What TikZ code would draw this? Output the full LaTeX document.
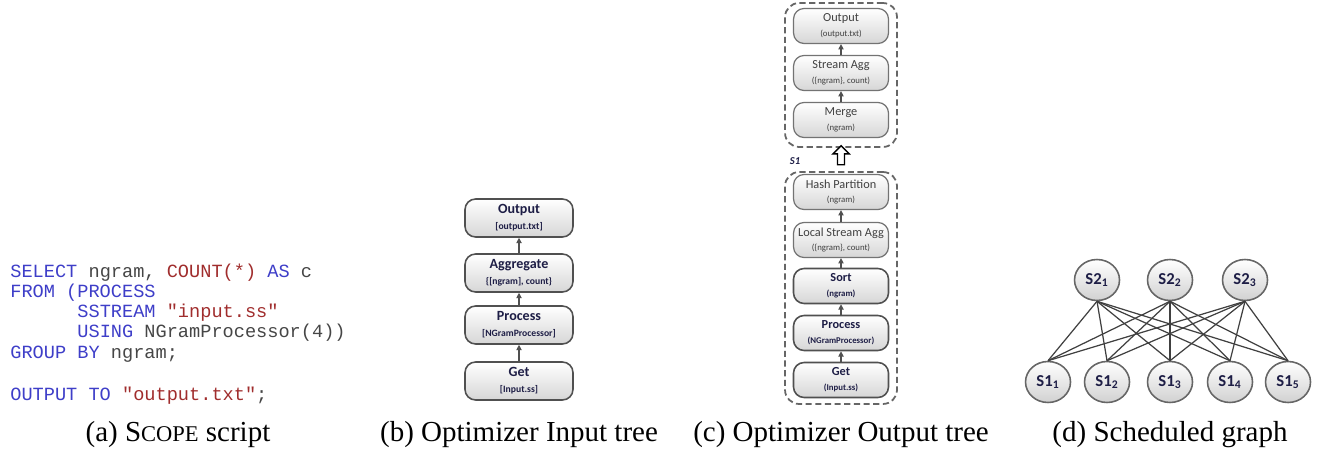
\documentclass[tikz,border=0pt]{standalone}
\usepackage{fontspec}
\setmainfont{Liberation Serif}
\setmonofont{Liberation Mono}
\newfontfamily\boxfont{Carlito}
\usetikzlibrary{arrows.meta,shapes.geometric,shapes.arrows,positioning}
\definecolor{kwblue}{RGB}{62,62,200}
\definecolor{strred}{RGB}{160,45,45}
\definecolor{idgray}{RGB}{70,70,70}
\definecolor{boxline}{RGB}{80,80,80}
\definecolor{boxtext}{RGB}{30,30,70}
\newcommand{\kw}[1]{\textcolor{kwblue}{#1}}
\newcommand{\str}[1]{\textcolor{strred}{#1}}
\newcommand{\ident}[1]{\textcolor{idgray}{#1}}
\newcommand{\inlabel}[2]{{\fontsize{8}{8}\selectfont #1}\\[1pt]{\fontsize{5.5}{6}\selectfont #2}}
\newcommand{\outlabel}[2]{{\fontsize{7}{8}\selectfont #1}\\[0.5pt]{\fontsize{5}{6}\selectfont #2}}
\tikzset{
  code/.style={anchor=base west, inner sep=0pt, font=\ttfamily\fontsize{10.6}{11}\selectfont},
  caption/.style={anchor=base, inner sep=0pt, font=\fontsize{16.5}{18}\selectfont},
  op/.style={rectangle, rounded corners=6pt, draw=boxline, line width=0.9pt,
    top color=white, bottom color=black!16, align=center, inner sep=1pt,
    text=boxtext, font=\boxfont\bfseries\fontsize{8}{8}\selectfont},
  flow/.style={-{Triangle[length=3pt,width=3pt]}, line width=0.6pt, draw=boxline},
}

\begin{document}
\begin{tikzpicture}[
  x=0.02cm, y=-0.02cm,
  inop/.style={op, minimum width=2.16cm, minimum height=0.76cm},
  outop/.style={op, minimum width=1.9cm, minimum height=0.7cm},
  faint/.style={draw=black!55, line width=0.7pt, text=black!75, font=\boxfont\fontsize{7}{8}\selectfont},
  group/.style={draw=black!60, line width=1pt, dash pattern=on 3.5pt off 2pt, rounded corners=8pt},
  stage/.style={ellipse, draw=black!60, line width=0.9pt, top color=white, bottom color=black!18,
    minimum width=0.9cm, minimum height=0.82cm, inner sep=0pt, text=boxtext,
    font=\boxfont\bfseries\fontsize{9.5}{9.5}\selectfont},
  link/.style={draw=black!75, line width=0.7pt}
]
  \useasboundingbox (0,0) rectangle (1317,449);

  % SCOPE script
  \node[code] (l1) at (10,277) {\kw{SELECT} \ident{ngram,} \str{COUNT(*)} \kw{AS} \ident{c}};
  \node[code] (l2) at (10,297) {\kw{FROM (PROCESS}};
  \node[code] (l3) at (10,317) {\phantom{FROM (}\kw{SSTREAM} \str{"input.ss"}};
  \node[code] (l4) at (10,337) {\phantom{FROM (}\kw{USING} \ident{NGramProcessor(4))}};
  \node[code] (l5) at (10,358) {\kw{GROUP BY} \ident{ngram;}};
  \node[code] (l6) at (10,400) {\kw{OUTPUT TO} \str{"output.txt"}\ident{;}};

  % Optimizer input tree
  \node[inop] (inout) at (519,218) {\inlabel{Output}{[output.txt]}};
  \node[inop] (inagg) at (519,273) {\inlabel{Aggregate}{\{[ngram], count\}}};
  \node[inop] (inproc) at (519,325) {\inlabel{Process}{[NGramProcessor]}};
  \node[inop] (inget) at (519,381) {\inlabel{Get}{[Input.ss]}};
  \draw[flow] (inget) -- (inproc);
  \draw[flow] (inproc) -- (inagg);
  \draw[flow] (inagg) -- (inout);

  % Optimizer output tree
  \node[group, minimum width=2.24cm, minimum height=2.88cm] (upper) at (841,75) {};
  \node[group, minimum width=2.24cm, minimum height=4.64cm] (lower) at (841,288) {};
  \node[font=\boxfont\bfseries\itshape\fontsize{6}{6}\selectfont, text=boxtext, inner sep=0pt] (s1tag) at (795,161) {S1};
  \node[single arrow, draw=black, line width=0.8pt, fill=white, rotate=90, inner sep=1.6pt,
    minimum height=0.38cm, single arrow head extend=2.6pt] (lift) at (841,157) {};

  \node[outop, faint] (outout) at (841,26) {\outlabel{Output}{(output.txt)}};
  \node[outop, faint] (outsagg) at (841,73) {\outlabel{Stream Agg}{(\{ngram\}, count)}};
  \node[outop, faint] (outmerge) at (841,120) {\outlabel{Merge}{(ngram)}};
  \node[outop, faint] (outhash) at (841,192) {\outlabel{Hash Partition}{(ngram)}};
  \node[outop, faint] (outlagg) at (841,240) {\outlabel{Local Stream Agg}{(\{ngram\}, count)}};
  \node[outop] (outsort) at (841,286) {\outlabel{Sort}{(ngram)}};
  \node[outop] (outproc) at (841,333) {\outlabel{Process}{(NGramProcessor)}};
  \node[outop] (outget) at (841,380) {\outlabel{Get}{(Input.ss)}};
  \draw[flow] (outget) -- (outproc);
  \draw[flow] (outproc) -- (outsort);
  \draw[flow] (outsort) -- (outlagg);
  \draw[flow] (outlagg) -- (outhash);
  \draw[flow] (outmerge) -- (outsagg);
  \draw[flow] (outsagg) -- (outout);

  % Scheduled graph
  \node[stage] (s21) at (1097,280) {S2\textsubscript{1}};
  \node[stage] (s22) at (1170,280) {S2\textsubscript{2}};
  \node[stage] (s23) at (1245,280) {S2\textsubscript{3}};
  \node[stage] (s11) at (1048,382) {S1\textsubscript{1}};
  \node[stage] (s12) at (1107,382) {S1\textsubscript{2}};
  \node[stage] (s13) at (1170,382) {S1\textsubscript{3}};
  \node[stage] (s14) at (1230,382) {S1\textsubscript{4}};
  \node[stage] (s15) at (1288,382) {S1\textsubscript{5}};
  \foreach \i in {1,2,3}
    \foreach \j in {1,...,5}
      \draw[link] (s2\i.south) -- (s1\j.north);

  % Captions
  \node[caption] (capa) at (178,441) {(a) S{\fontsize{12.8}{14}\selectfont COPE} script};
  \node[caption] (capb) at (519,441) {(b) Optimizer Input tree};
  \node[caption] (capc) at (841,441) {(c) Optimizer Output tree};
  \node[caption] (capd) at (1170,441) {(d) Scheduled graph};
\end{tikzpicture}
\end{document}
